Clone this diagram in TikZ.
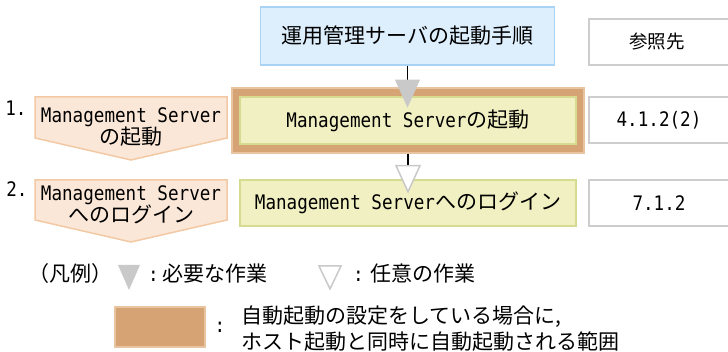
\documentclass[tikz,border=0pt]{standalone}
\usepackage{fontspec}
\setmainfont{Noto Sans CJK JP}
\newfontfamily\monof[FakeStretch=0.88]{DejaVu Sans Mono}
\usetikzlibrary{calc}
\definecolor{bluefill}{HTML}{DDEEFD}
\definecolor{blueline}{HTML}{A9D3F5}
\definecolor{peachfill}{HTML}{FBE7D7}
\definecolor{peachline}{HTML}{F2C9A4}
\definecolor{yelfill}{HTML}{F1F0C2}
\definecolor{yelline}{HTML}{D6DC8F}
\definecolor{orangefill}{HTML}{D5A374}
\definecolor{orangeedge}{HTML}{E9C4A0}
\definecolor{refline}{HTML}{CDCDCD}
\definecolor{trigray}{HTML}{C9C9C9}
\newcommand\mgmt{{\monof\fontsize{20}{22}\selectfont Management Server}}
\newcommand\mtxt[1]{{\monof\fontsize{20}{22}\selectfont #1}}
\begin{document}
\begin{tikzpicture}[x=1pt,y=-1pt,
  jp/.style={font=\fontsize{21}{22}\selectfont},
  boxn/.style={rectangle, inner sep=0pt, line width=1.5pt},
  refbox/.style={boxn, fill=white, draw=refline, minimum width=144pt},
  pent/.style={fill=peachfill, draw=peachline, line width=1.5pt, line join=miter},
  conn/.style={line width=1.5pt, black},
  tnode/.style={inner sep=0pt, align=center, jp}
  ]
\useasboundingbox (0,0) rectangle (728,352);

% header
\node[boxn, fill=bluefill, draw=blueline, minimum width=294pt, minimum height=58pt, jp] (title) at (407.5,36) {運用管理サーバの起動手順};
\node[refbox, minimum height=46pt] (refh) at (661,42) {};
\node[inner sep=0pt, font=\fontsize{18.5}{20}\selectfont] (refht) at (657,42) {参照先};

% row 1
\node[inner sep=0pt, font=\monof\fontsize{20}{20}\selectfont] (n1) at (16,108) {1.};
\draw[pent] (35,97) -- (227,97) -- (227,138) -- (131,160) -- (35,138) -- cycle;
\node[tnode] (p1) at (131,127) {\mgmt\\の起動};
\node[boxn, fill=orangefill, draw=orangeedge, minimum width=352pt, minimum height=65pt] (frame) at (408,120.5) {};
\node[boxn, fill=yelfill, draw=yelline, minimum width=336pt, minimum height=47pt, jp] (s1) at (408,120.5) {\mgmt の起動};
\node[refbox, minimum height=46pt] (r1) at (661,120) {};
\node[inner sep=0pt] (r1t) at (659,120) {\mtxt{4.1.2(2)}};

% row 2
\node[inner sep=0pt, font=\monof\fontsize{20}{20}\selectfont] (n2) at (17,189) {2.};
\draw[pent] (35,180) -- (227,180) -- (227,220) -- (131,242) -- (35,220) -- cycle;
\node[tnode] (p2) at (131,205) {\mgmt\\へのログイン};
\node[boxn, fill=yelfill, draw=yelline, minimum width=336pt, minimum height=46pt, jp] (s2) at (408,203) {\mgmt へのログイン};
\node[refbox, minimum height=46pt] (r2) at (661,203) {};
\node[inner sep=0pt] (r2t) at (659,203) {\mtxt{7.1.2}};

% connectors
\path (title.south) ++(0,14) coordinate (a1);
\draw[conn] (title.south) -- (a1);
\fill[trigray] ($(a1)+(-12.5,0)$) -- ($(a1)+(12.5,0)$) -- ($(a1)+(0,28)$) -- cycle;
\path (frame.south) ++(0,12) coordinate (a2);
\draw[conn] (frame.south) -- (a2);
\draw[fill=white, draw=trigray, line width=1.5pt, line join=miter] ($(a2)+(-12,0)$) -- ($(a2)+(12,0)$) -- ($(a2)+(0,26)$) -- cycle;

% legend
\node[tnode] (lg) at (70,274) {（凡例）};
\fill[trigray] (118,265) coordinate (lt1) -- (140,265) -- (129,290) -- cycle;
\node[tnode, anchor=west] (lgreq) at (148,274) {\mtxt{:}\hspace{4pt}必要な作業};
\draw[fill=white, draw=trigray, line width=1.5pt, line join=miter] (319,266) coordinate (lt2) -- (341,266) -- (330,289) -- cycle;
\node[tnode, anchor=west] (lgopt) at (353,274) {\mtxt{:}\hspace{7pt}任意の作業};
\node[boxn, fill=orangefill, draw=orangeedge, minimum width=90pt, minimum height=40pt] (lgbox) at (160,327) {};
\node[inner sep=0pt, font=\monof\fontsize{20}{20}\selectfont] (lgcol) at (220,327) {:};
\node[inner sep=0pt, align=left, anchor=west, font=\fontsize{21}{26}\selectfont] (lgtxt) at (241,329) {自動起動の設定をしている場合に,\\ホスト起動と同時に自動起動される範囲};
\end{tikzpicture}
\end{document}
